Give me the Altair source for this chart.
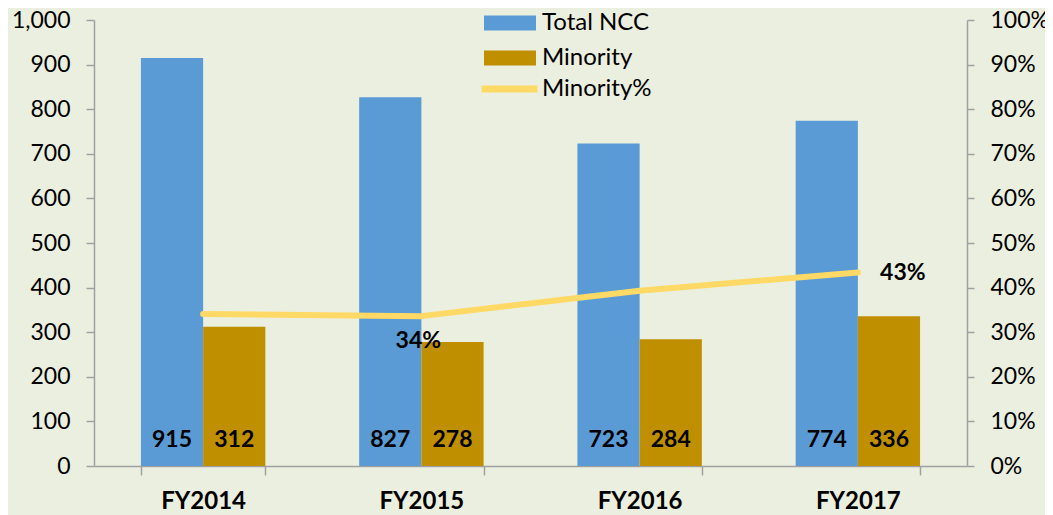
import altair as alt
import pandas as pd

# ---- data ----
years = ["FY2014", "FY2015", "FY2016", "FY2017"]
total_ncc = [915, 827, 723, 774]
minority = [312, 278, 284, 336]
minority_pct = [0.341, 0.336, 0.393, 0.434]
pct_labels = ["", "34%", "", "43%"]
left_ticks = [0, 100, 200, 300, 400, 500, 600, 700, 800, 900, 1000]
right_ticks = [0.0, 0.1, 0.2, 0.3, 0.4, 0.5, 0.6, 0.7, 0.8, 0.9, 1.0]

bar_series = ["Total NCC", "Minority"]
line_series = ["Minority%"]
bar_colors = ["#5B9BD5", "#BF8F00"]
line_colors = ["#FFD966"]

bars_df = pd.DataFrame(
    [{"year": y, "series": "Total NCC", "value": v} for y, v in zip(years, total_ncc)]
    + [{"year": y, "series": "Minority", "value": v} for y, v in zip(years, minority)]
)
line_df = pd.DataFrame(
    {"year": years, "series": "Minority%", "pct": minority_pct, "label": pct_labels}
)

FONT = "Lato"
BG = "#EBEFDF"
AXC = "#A0A0A0"

xscale = alt.Scale(domain=years, paddingInner=0.43, paddingOuter=0.215)
x_enc = alt.X(
    "year:N",
    scale=xscale,
    sort=years,
    axis=alt.Axis(
        title=None,
        labelAngle=0,
        labelFont=FONT,
        labelFontSize=24,
        labelFontWeight="bold",
        labelColor="black",
        tickBand="extent",
        tickSize=9,
        tickColor=AXC,
        tickWidth=1.5,
        domainColor=AXC,
        domainWidth=1.5,
        labelPadding=14,
    ),
)
xoff = alt.XOffset("series:N", sort=bar_series,
                   scale=alt.Scale(domain=bar_series, paddingInner=0, paddingOuter=0))

left_axis = alt.Axis(
    title=None, orient="left", values=left_ticks, format=",.0f", grid=False,
    labelFont=FONT, labelFontSize=23, labelColor="black",
    tickSize=8, tickColor=AXC, tickWidth=1.5, domainColor=AXC, domainWidth=1.5,
    labelPadding=16,
)

right_axis = alt.Axis(
    title=None, orient="right", values=right_ticks, format=".0%", grid=False,
    labelFont=FONT, labelFontSize=23, labelColor="black",
    tickSize=7, tickColor=AXC, tickWidth=1.5, domainColor=AXC, domainWidth=1.5,
    labelPadding=16,
)

bar_legend = alt.Legend(
    title=None, orient="none", legendX=390, legendY=-7, padding=0,
    symbolType="M-1,-0.29H1V0.29H-1Z", symbolSize=2704, symbolStrokeWidth=0,
    clipHeight=20, rowPadding=11, labelOffset=6,
    labelFont=FONT, labelFontSize=24, labelColor="black",
)
line_legend = alt.Legend(
    title=None, orient="none", legendX=384, legendY=59, padding=0,
    symbolType="stroke", symbolSize=3136, symbolStrokeWidth=7,
    clipHeight=20, labelOffset=1,
    labelFont=FONT, labelFontSize=24, labelColor="black",
)

bars = alt.Chart(bars_df).mark_bar().encode(
    x=x_enc,
    xOffset=xoff,
    y=alt.Y("value:Q", scale=alt.Scale(domain=[0, 1000], nice=False), axis=left_axis),
    color=alt.Color("series:N", sort=bar_series,
                    scale=alt.Scale(domain=bar_series, range=bar_colors),
                    legend=bar_legend),
)
bar_text = alt.Chart(bars_df).mark_text(
    font=FONT, fontSize=23, fontWeight="bold", color="black",
    baseline="alphabetic", align="center", dy=-19,
).encode(
    x=alt.X("year:N", sort=years),
    xOffset=alt.XOffset("series:N", sort=bar_series),
    y=alt.datum(0),
    text=alt.Text("value:Q"),
)
left = alt.layer(bars, bar_text)

line = alt.Chart(line_df).mark_line(strokeWidth=6, strokeCap="round", strokeJoin="round").encode(
    x=alt.X("year:N", sort=years),
    y=alt.Y("pct:Q", scale=alt.Scale(domain=[0, 1], nice=False), axis=right_axis),
    stroke=alt.Stroke("series:N", scale=alt.Scale(domain=line_series, range=line_colors),
                      legend=line_legend),
)
lbl_common = dict(font=FONT, fontSize=23, fontWeight="bold", color="black",
                  baseline="middle", align="center")
pct_text_below = alt.Chart(line_df).transform_filter(
    alt.datum.year == "FY2015"
).mark_text(dy=25, dx=-3, **lbl_common).encode(
    x=alt.X("year:N", sort=years), y=alt.Y("pct:Q"), text="label:N"
)
pct_text_right = alt.Chart(line_df).transform_filter(
    alt.datum.year == "FY2017"
).mark_text(dx=45, dy=1, **lbl_common).encode(
    x=alt.X("year:N", sort=years), y=alt.Y("pct:Q"), text="label:N"
)
right = alt.layer(line, pct_text_below, pct_text_right)

chart = (
    alt.layer(left, right)
    .resolve_scale(y="independent")
    .properties(
        width=873, height=446,
        background=BG,
        padding={"left": 86, "top": 12, "right": 78, "bottom": 49},
        autosize=alt.AutoSizeParams(type="none"),
    )
    .configure_view(stroke=None)
)

chart.save("out.html", embed_options={"renderer": "svg", "actions": False})
